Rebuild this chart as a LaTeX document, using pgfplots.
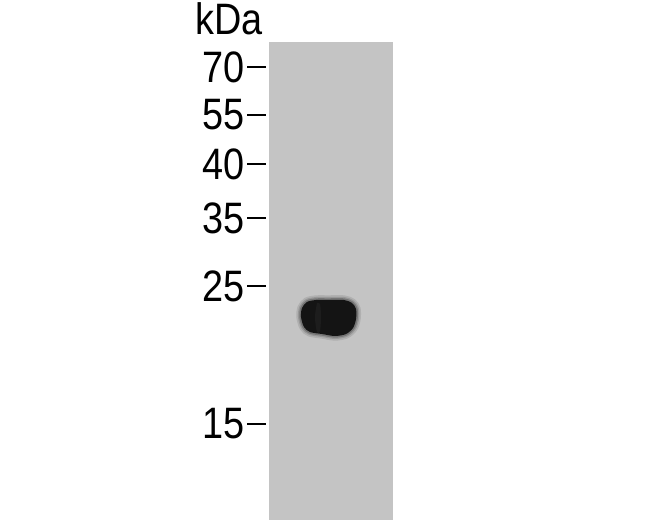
\documentclass[border=0pt]{standalone}
\usepackage{fontspec}
\setmainfont[FakeStretch=0.86]{Liberation Sans}
\usepackage{pgfplots}
\usepackage{pgfplotstable}
\pgfplotsset{compat=1.18}
\definecolor{lanegray}{RGB}{196,196,196}
\definecolor{bandcore}{RGB}{20,20,20}
% outline of the band, in pixel coordinates
\pgfplotstableread{
x y
328 300
344 300
352 303
356 309
356 319
353 328
346 334
335 336
322 334
310 332
304 327
301 317
302 308
307 302
316 300
328 300
}\bandoutline
\begin{document}
\begin{tikzpicture}[x=0.75pt,y=0.75pt]
  % page = 650 x 520 px, 1 px = 0.75pt
  \useasboundingbox (0pt,0pt) rectangle (487.5pt,390pt);
  \begin{axis}[
      at={(199.5pt,0pt)}, anchor=south west,
      scale only axis,
      width=95.25pt, height=358.5pt,
      xmin=266, xmax=393,
      ymin=42, ymax=520,
      y dir=reverse,
      clip=false,
      axis x line=none,
      axis y line*=left,
      y axis line style={draw=none},
      xtick=\empty,
      ytick={67,115,164,218,286,424},
      yticklabels={70,55,40,35,25,15},
      ytick pos=left,
      tick align=outside,
      major tick length=14.25pt,
      ytick style={line width=2.2pt, black},
      yticklabel style={font=\fontsize{33}{33}\selectfont, inner sep=0pt, xshift=-1.5pt},
    ]
    % lane
    \addplot[draw=none, fill=lanegray] coordinates {
      (269,42) (393,42) (393,520) (269,520)
    };
    % soft edge of the band
    \addplot[draw=black, line width=7pt, opacity=0.10, smooth] table {\bandoutline};
    \addplot[draw=black, line width=4.5pt, opacity=0.14, smooth] table {\bandoutline};
    \addplot[draw=black, line width=2.5pt, opacity=0.22, smooth] table {\bandoutline};
    % band core
    \addplot[draw=none, fill=bandcore, smooth] table {\bandoutline};
    % faint split in the band
    \addplot[draw=none, fill=black!60, fill opacity=0.12, smooth] coordinates {
      (317,303) (320,304) (321,317) (320,331) (317,332) (315,317) (317,303)
    };
    \node[anchor=base east, inner sep=0pt, font=\fontsize{33}{33}\selectfont]
      at (axis cs:263,35) {kDa};
  \end{axis}
\end{tikzpicture}
\end{document}
